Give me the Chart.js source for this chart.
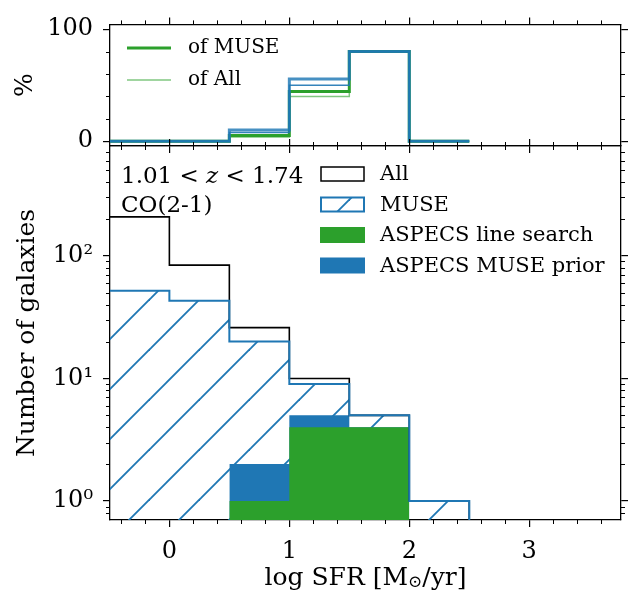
<!DOCTYPE html>
<html><head><meta charset="utf-8">
<script src="https://cdn.jsdelivr.net/npm/chart.js@4.4.0/dist/chart.umd.min.js"></script>
<style>
html,body{margin:0;padding:0;background:#fff;}
#wrap{position:relative;width:644px;height:610px;}
canvas{position:absolute;left:0;top:0;}
</style></head><body>
<div id="wrap"><canvas id="topc" width="644" height="610"></canvas><canvas id="botc" width="644" height="610"></canvas></div>
<script>
// ---------- data ----------
const binEdges = [-0.5, 0, 0.5, 1, 1.5, 2, 2.5];
const countAll = [208, 84, 26, 10, 5, 1];
const countMUSE = [52, 43, 20, 9, 5, 1];
const detEdges = [0.5, 1, 1.5, 2];
const countLineSearch = [1, 4, 4];
const countMusePrior = [2, 5, 4];
const pctLineOfMUSE = [0, 0, 5, 44.4, 80, 0];
const pctLineOfAll = [0, 0, 3.8, 40, 80, 0];
const pctPriorOfMUSE = [0, 0, 10, 55.6, 80, 0];
const pctPriorOfAll = [0, 0, 7.7, 50, 80, 0];
const xTickValues = [0, 1, 2, 3];
const xTickLabels = ['0', '1', '2', '3'];
const pctTickValues = [0, 100];
const pctTickLabels = ['0', '100'];
const countTickValues = [1, 10, 100];
const countTickLabels = ['10\u2070', '10\u00B9', '10\u00B2'];

// ---------- styling constants ----------
const XMIN = -0.495, XMAX = 3.765;
const FONT = 'DejaVu Serif';
const TICKFS = 24, TITLEFS = 25;
const GREEN = '#2ca02c', BLUE = '#1f77b4';
const W = 644, H = 610;
const PLOT_L = 110, PLOT_R = 621, TOP_T = 22, MID = 146, BOT_B = 520;

function steps(edges, vals, base) {
  const pts = [];
  if (base !== undefined) pts.push({x: edges[0], y: base});
  for (let i = 0; i < vals.length; i++) pts.push({x: edges[i], y: vals[i]});
  if (base !== undefined) {
    pts.push({x: edges[vals.length], y: vals[vals.length - 1]});
    pts.push({x: edges[vals.length], y: base});
  } else {
    pts.push({x: edges[vals.length], y: vals[vals.length - 1]});
  }
  return pts;
}
function fillSteps(edges, vals) {
  const pts = vals.map((v, i) => ({x: edges[i], y: v}));
  pts.push({x: edges[vals.length], y: vals[vals.length - 1]});
  return pts;
}

function makeHatch(ctx, color) {
  const c = document.createElement('canvas');
  c.width = 50; c.height = 50;
  const g = c.getContext('2d');
  g.strokeStyle = color; g.lineWidth = 1.9;
  for (const k of [-1, 49, 99]) {
    g.beginPath(); g.moveTo(k + 3, -3); g.lineTo(-3, k + 3); g.stroke();
  }
  return ctx.createPattern(c, 'repeat');
}

const minorTicks = {
  id: 'minorTicks',
  afterDraw(chart, args, opts) {
    const ctx = chart.ctx, a = chart.chartArea;
    const xs = chart.scales.x, ys = chart.scales.y;
    ctx.save();
    ctx.strokeStyle = '#000'; ctx.lineWidth = 1;
    const L = 4;
    for (const v of opts.x) {
      const px = Math.round(xs.getPixelForValue(v)) + 0.5;
      ctx.beginPath();
      ctx.moveTo(px, a.bottom); ctx.lineTo(px, a.bottom + L);
      ctx.moveTo(px, a.top); ctx.lineTo(px, a.top - L);
      ctx.stroke();
    }
    for (const v of opts.y) {
      const py = Math.round(ys.getPixelForValue(v)) + 0.5;
      ctx.beginPath();
      ctx.moveTo(a.left, py); ctx.lineTo(a.left - L, py);
      ctx.moveTo(a.right, py); ctx.lineTo(a.right + L, py);
      ctx.stroke();
    }
    ctx.restore();
  }
};

const xMinorVals = [];
for (let k = -2; k <= 18; k++) { const v = k * 0.2; if (Math.abs(v - Math.round(v)) > 1e-6 && v > XMIN && v < XMAX) xMinorVals.push(+v.toFixed(1)); }
const logMinor = [];
for (const d of [0.1, 1, 10, 100]) for (let m = 2; m <= 9; m++) { const v = m * d; if (v > 0.709 && v < 788) logMinor.push(v); }

function axisX(pos, fitH, showLabels) {
  return {
    type: 'linear', position: pos, min: XMIN, max: XMAX,
    afterBuildTicks: s => { s.ticks = xTickValues.map(v => ({value: v})); },
    ticks: {
      callback: (v) => showLabels ? xTickLabels[xTickValues.indexOf(v)] : '',
      font: {family: FONT, size: TICKFS}, color: '#000', padding: 10, maxRotation: 0, autoSkip: false
    },
    grid: {drawOnChartArea: false, color: '#000', tickLength: 7, lineWidth: 1.2},
    border: {display: true, color: '#000', width: 1.3},
    afterFit: s => { s.height = fitH; }
  };
}

// ---------- top panel ----------
const topCtx = document.getElementById('topc').getContext('2d');
new Chart(topCtx, {
  type: 'line',
  data: {
    datasets: [
      {label: 'prior of MUSE', data: steps(binEdges, pctPriorOfMUSE), borderColor: 'rgba(31,119,180,0.82)', borderWidth: 3},
      {label: 'prior of All', data: steps(binEdges, pctPriorOfAll), borderColor: 'rgba(31,119,180,0.9)', borderWidth: 1.5},
      {label: 'of All', data: steps(binEdges, pctLineOfAll), borderColor: 'rgba(44,160,44,0.6)', borderWidth: 1.5},
      {label: 'of MUSE', data: steps(binEdges, pctLineOfMUSE), borderColor: GREEN, borderWidth: 3}
    ].map(d => Object.assign(d, {stepped: true, pointRadius: 0, fill: false, xAxisID: 'x', yAxisID: 'y'}))
  },
  options: {
    responsive: false, animation: false, events: [],
    layout: {padding: 0},
    plugins: {
      legend: {display: false}, tooltip: {enabled: false},
      minorTicks: {x: xMinorVals, y: [20, 40, 60, 80]}
    },
    scales: {
      x: axisX('bottom', H - MID, false),
      xt: axisX('top', TOP_T, false),
      y: {
        type: 'linear', position: 'left', min: -4.3, max: 104.3,
        afterBuildTicks: s => { s.ticks = pctTickValues.map(v => ({value: v})); },
        ticks: {callback: v => pctTickLabels[pctTickValues.indexOf(v)], font: {family: FONT, size: TICKFS}, color: '#000', padding: 10},
        grid: {drawOnChartArea: false, color: '#000', tickLength: 7, lineWidth: 1.2},
        border: {display: true, color: '#000', width: 1.3},
        title: {display: true, text: '%', font: {family: FONT, size: TITLEFS}, color: '#000', padding: {top: 10, bottom: 0}},
        afterFit: s => { s.width = PLOT_L; }
      },
      yr: {
        type: 'linear', position: 'right', min: -4.3, max: 104.3,
        afterBuildTicks: s => { s.ticks = pctTickValues.map(v => ({value: v})); },
        ticks: {callback: () => '', font: {family: FONT, size: TICKFS}},
        grid: {drawOnChartArea: false, color: '#000', tickLength: 7, lineWidth: 1.2},
        border: {display: true, color: '#000', width: 1.3},
        afterFit: s => { s.width = W - PLOT_R; }
      }
    }
  },
  plugins: [minorTicks, {
    id: 'topLegend',
    afterDraw(chart) {
      const ctx = chart.ctx;
      ctx.save();
      ctx.lineCap = 'butt';
      ctx.strokeStyle = GREEN; ctx.lineWidth = 3;
      ctx.beginPath(); ctx.moveTo(127, 48); ctx.lineTo(171, 48); ctx.stroke();
      ctx.strokeStyle = 'rgba(44,160,44,0.6)'; ctx.lineWidth = 1.5;
      ctx.beginPath(); ctx.moveTo(127, 80); ctx.lineTo(171, 80); ctx.stroke();
      ctx.fillStyle = '#000'; ctx.font = '20px "DejaVu Serif"'; ctx.textBaseline = 'middle';
      ctx.fillText('of MUSE', 188, 48);
      ctx.fillText('of All', 188, 80);
      ctx.restore();
    }
  }]
});

// ---------- bottom panel ----------
const botCtx = document.getElementById('botc').getContext('2d');
const hatch = makeHatch(botCtx, BLUE);
const BASE = 0.1;
new Chart(botCtx, {
  type: 'line',
  data: {
    datasets: [
      {label: 'MUSE', data: steps(binEdges, countMUSE, BASE), borderColor: BLUE, borderWidth: 2, fill: false},
      {label: 'All', data: steps(binEdges, countAll, BASE), borderColor: '#000', borderWidth: 1.6, fill: false},
      {label: 'ASPECS line search', data: fillSteps(detEdges, countLineSearch), borderWidth: 0, borderColor: 'rgba(0,0,0,0)', backgroundColor: GREEN, fill: 'start'},
      {label: 'ASPECS MUSE prior', data: fillSteps(detEdges, countMusePrior), borderWidth: 0, borderColor: 'rgba(0,0,0,0)', backgroundColor: BLUE, fill: 'start'},
      {label: 'MUSE hatch', data: fillSteps(binEdges, countMUSE), borderWidth: 0, borderColor: 'rgba(0,0,0,0)', backgroundColor: hatch, fill: 'start'}
    ].map(d => Object.assign(d, {stepped: true, pointRadius: 0, xAxisID: 'x', yAxisID: 'y', clip: 0}))
  },
  options: {
    responsive: false, animation: false, events: [],
    layout: {padding: 0},
    plugins: {
      legend: {display: false}, tooltip: {enabled: false},
      minorTicks: {x: xMinorVals, y: logMinor}
    },
    scales: {
      x: axisX('bottom', H - BOT_B, true),
      xt: axisX('top', MID, false),
      y: {
        type: 'logarithmic', position: 'left', min: 0.709, max: 788,
        afterBuildTicks: s => { s.ticks = countTickValues.map(v => ({value: v})); },
        ticks: {callback: v => countTickLabels[countTickValues.indexOf(v)], font: {family: FONT, size: TICKFS}, color: '#000', padding: 10, autoSkip: false},
        grid: {drawOnChartArea: false, color: '#000', tickLength: 7, lineWidth: 1.2},
        border: {display: true, color: '#000', width: 1.3},
        title: {display: true, text: 'Number of galaxies', font: {family: FONT, size: TITLEFS}, color: '#000', padding: {top: 12, bottom: 0}},
        afterFit: s => { s.width = PLOT_L; }
      },
      yr: {
        type: 'logarithmic', position: 'right', min: 0.709, max: 788,
        afterBuildTicks: s => { s.ticks = countTickValues.map(v => ({value: v})); },
        ticks: {callback: () => '', font: {family: FONT, size: TICKFS}},
        grid: {drawOnChartArea: false, color: '#000', tickLength: 7, lineWidth: 1.2},
        border: {display: true, color: '#000', width: 1.3},
        afterFit: s => { s.width = W - PLOT_R; }
      }
    }
  },
  plugins: [minorTicks, {
    id: 'botText',
    afterDraw(chart) {
      const ctx = chart.ctx;
      ctx.save();
      // legend
      const rows = [174, 204.5, 235, 265.5];
      const bx = 321, bw = 43, bh = 14;
      ctx.lineWidth = 1.5; ctx.strokeStyle = '#000'; ctx.fillStyle = '#fff';
      ctx.fillRect(bx, rows[0] - bh / 2, bw, bh); ctx.strokeRect(bx, rows[0] - bh / 2, bw, bh);
      ctx.fillStyle = hatch; ctx.fillRect(bx, rows[1] - bh / 2, bw, bh);
      ctx.lineWidth = 2; ctx.strokeStyle = BLUE; ctx.strokeRect(bx, rows[1] - bh / 2, bw, bh);
      ctx.fillStyle = GREEN; ctx.fillRect(bx - 1, rows[2] - bh / 2 - 1, bw + 2, bh + 2);
      ctx.fillStyle = BLUE; ctx.fillRect(bx - 1, rows[3] - bh / 2 - 1, bw + 2, bh + 2);
      ctx.fillStyle = '#000'; ctx.textBaseline = 'middle';
      ctx.font = '21px "DejaVu Serif"';
      const names = ['All', 'MUSE', 'ASPECS line search', 'ASPECS MUSE prior'];
      names.forEach((n, i) => ctx.fillText(n, 380, rows[i] + 1));
      // annotation
      const AF = '23px "DejaVu Serif"';
      ctx.font = AF;
      let x = 121;
      const y1 = 177;
      const p1 = '1.01 < ', p3 = ' < 1.74';
      ctx.fillText(p1, x, y1); x += ctx.measureText(p1).width;
      ctx.font = 'italic 23px "DejaVu Serif"';
      ctx.fillText('z', x, y1); x += ctx.measureText('z').width;
      ctx.font = AF;
      ctx.fillText(p3, x, y1);
      ctx.fillText('CO(2-1)', 121, 206);
      // x-axis title
      const a = chart.chartArea;
      const cx = (a.left + a.right) / 2, ty = 578;
      const s1 = 'log SFR [M', s2 = '\u2299', s3 = '/yr]';
      const BF = TITLEFS + 'px "DejaVu Serif"', SF = '17px "DejaVu Serif"';
      ctx.font = BF; const w1 = ctx.measureText(s1).width, w3 = ctx.measureText(s3).width;
      ctx.font = SF; const w2 = ctx.measureText(s2).width;
      let sx = cx - (w1 + w2 + w3) / 2;
      ctx.font = BF; ctx.fillText(s1, sx, ty); sx += w1;
      ctx.font = SF; ctx.fillText(s2, sx, ty + 5); sx += w2;
      ctx.font = BF; ctx.fillText(s3, sx, ty);
      ctx.restore();
    }
  }]
});
</script>
</body></html>
